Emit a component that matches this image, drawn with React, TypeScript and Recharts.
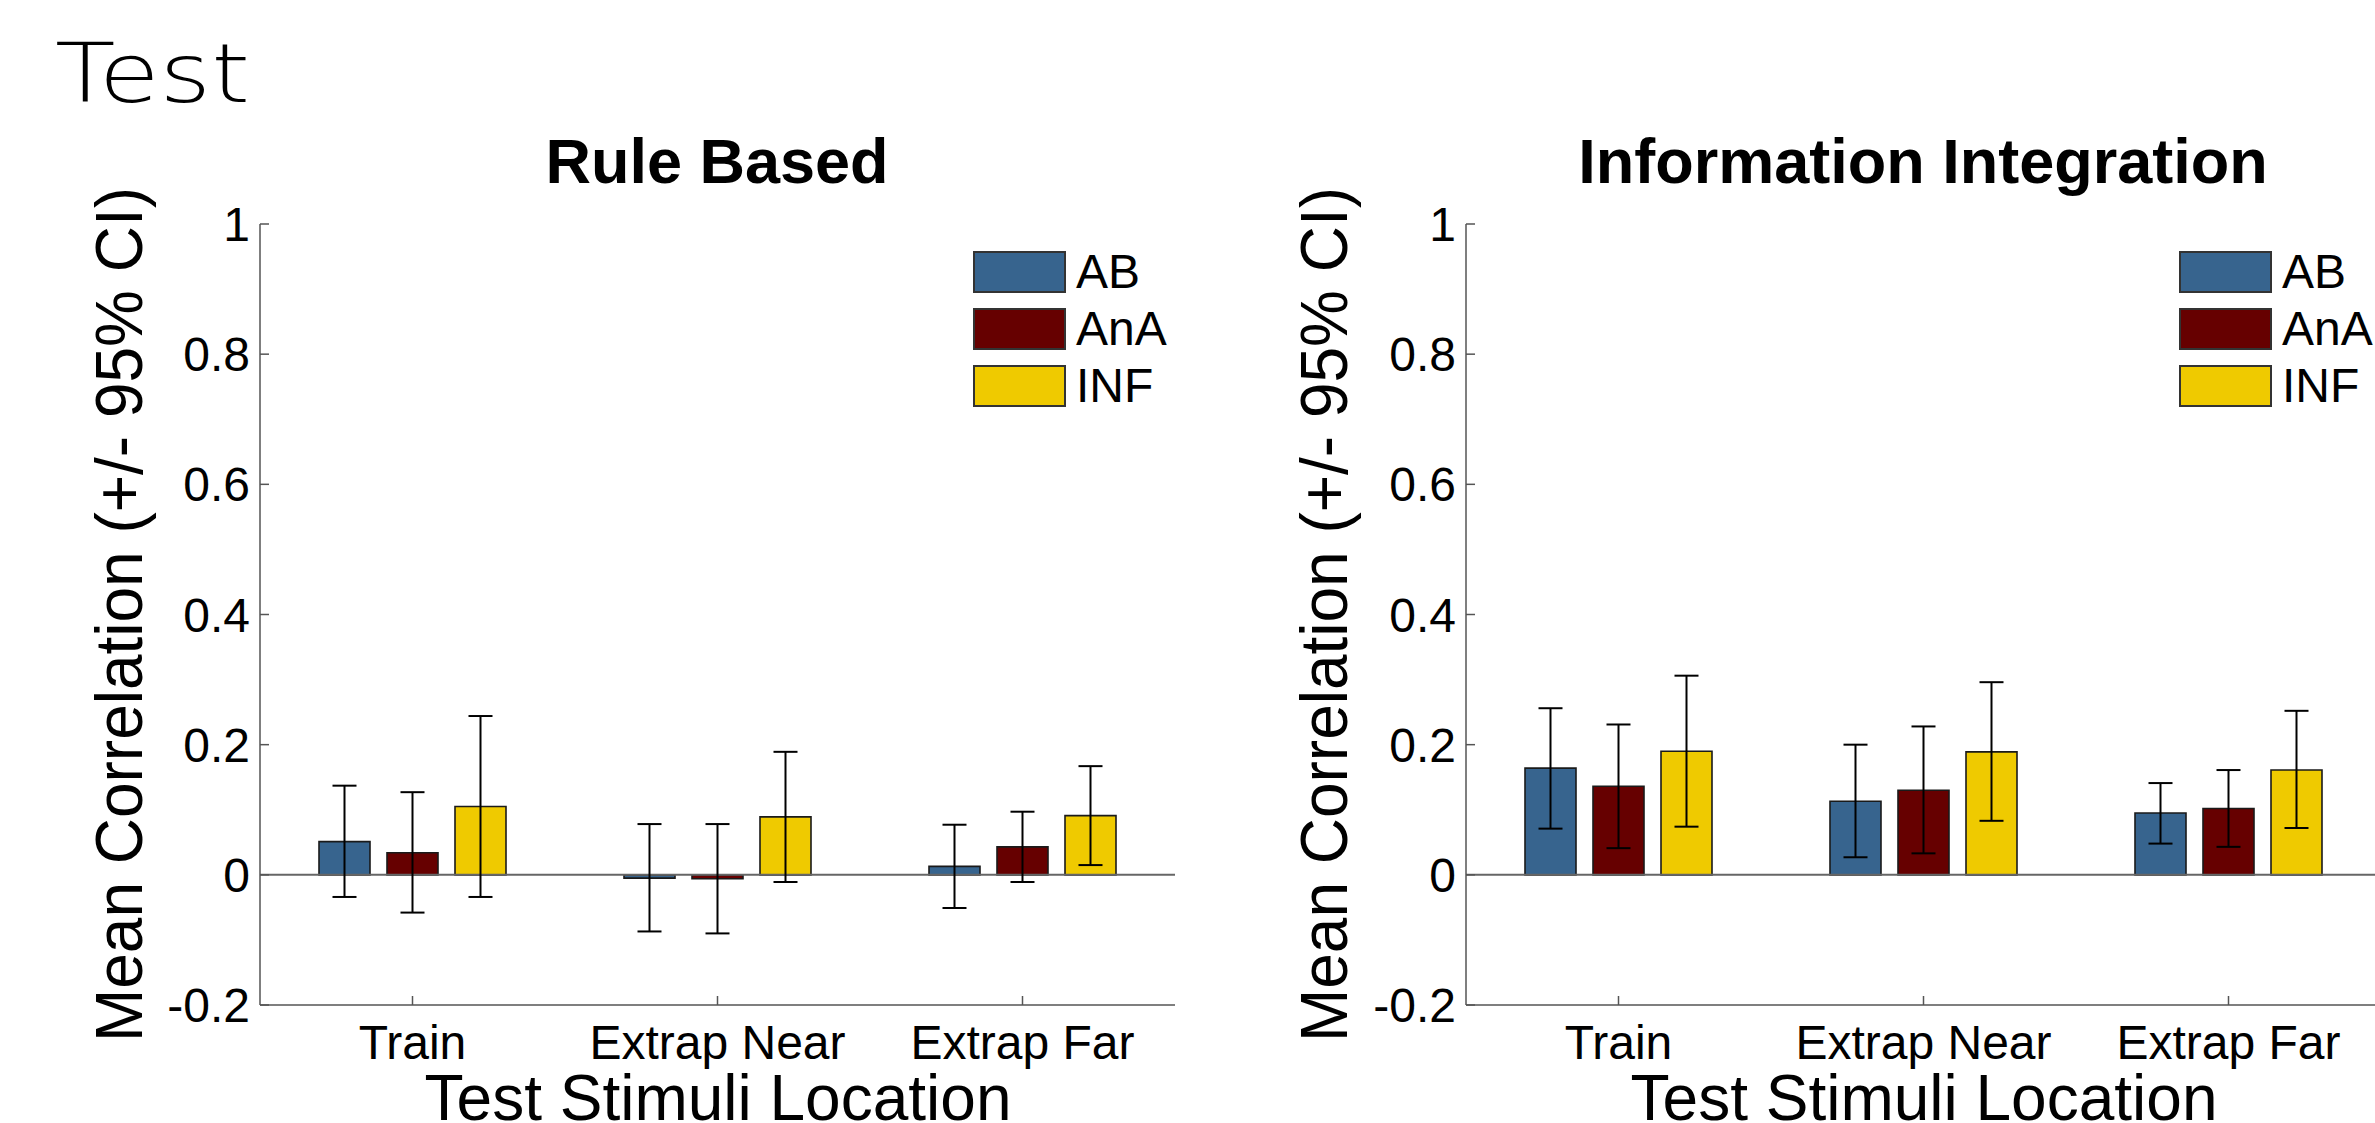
import React from 'react';
import { BarChart, Bar, XAxis, YAxis, ErrorBar, ReferenceLine, Legend } from 'recharts';

// categories / series
const categories = ['Train', 'Extrap Near', 'Extrap Far'];
const seriesNames = ['AB', 'AnA', 'INF'];
const seriesColors = ['#37648E', '#660000', '#EFCA00'];
const yTicks = [-0.2, 0, 0.2, 0.4, 0.6, 0.8, 1];

// Rule Based: mean correlation and 95% CI bounds
const rbAB = [0.051, -0.005, 0.013];
const rbABLow = [-0.034, -0.087, -0.051];
const rbABHigh = [0.137, 0.078, 0.077];
const rbAnA = [0.034, -0.006, 0.043];
const rbAnALow = [-0.058, -0.090, -0.011];
const rbAnAHigh = [0.127, 0.078, 0.097];
const rbINF = [0.105, 0.089, 0.091];
const rbINFLow = [-0.034, -0.011, 0.015];
const rbINFHigh = [0.244, 0.189, 0.167];

// Information Integration
const iiAB = [0.164, 0.113, 0.095];
const iiABLow = [0.071, 0.027, 0.048];
const iiABHigh = [0.256, 0.200, 0.141];
const iiAnA = [0.136, 0.130, 0.102];
const iiAnALow = [0.041, 0.033, 0.043];
const iiAnAHigh = [0.231, 0.228, 0.161];
const iiINF = [0.190, 0.189, 0.161];
const iiINFLow = [0.074, 0.083, 0.072];
const iiINFHigh = [0.306, 0.296, 0.252];

const FONT = 'Arial, "Liberation Sans", Helvetica, sans-serif';
const CHART_W = 1190;
const CHART_H = 1123;
const MARGIN = { top: 224, right: 15, bottom: 58, left: 200 };

// build the table recharts wants from the small arrays
const buildRows = (means: number[][], lows: number[][], highs: number[][]) =>
  categories.map((cat, i) => {
    const row: any = { name: cat };
    seriesNames.forEach((s, k) => {
      row[s] = means[k][i];
      row[s + 'Err'] = [means[k][i] - lows[k][i], highs[k][i] - means[k][i]];
    });
    return row;
  });

const rbData = buildRows(
  [rbAB, rbAnA, rbINF],
  [rbABLow, rbAnALow, rbINFLow],
  [rbABHigh, rbAnAHigh, rbINFHigh]
);
const iiData = buildRows(
  [iiAB, iiAnA, iiINF],
  [iiABLow, iiAnALow, iiINFLow],
  [iiABHigh, iiAnAHigh, iiINFHigh]
);

// ticks point inward, matlab style
const YTick = (props: any) => {
  const { x, y, payload } = props;
  return (
    <g>
      <line x1={x + 10} x2={x + 19} y1={y} y2={y} stroke="#555" strokeWidth={1.5} />
      <text x={x} y={y + 17} textAnchor="end" fontSize={48} fontFamily={FONT} fill="#000">
        {payload.value}
      </text>
    </g>
  );
};

const XTick = (props: any) => {
  const { x, y, payload } = props;
  return (
    <g>
      <line x1={x} x2={x} y1={y} y2={y - 9} stroke="#555" strokeWidth={1.5} />
      <text x={x} y={y + 54} textAnchor="middle" fontSize={48} fontFamily={FONT} fill="#000">
        {payload.value}
      </text>
    </g>
  );
};

const LegendBox = ({ payload }: any) => (
  <div style={{ display: 'flex', flexDirection: 'column', gap: 15 }}>
    {(payload || []).map((entry: any, i: number) => (
      <div key={entry.value} style={{ display: 'flex', alignItems: 'center', height: 42 }}>
        <div
          style={{
            width: 93,
            height: 42,
            background: entry.color || seriesColors[i],
            border: '2px solid #333',
            boxSizing: 'border-box',
          }}
        />
        <span style={{ marginLeft: 10, fontSize: 48, fontFamily: FONT, lineHeight: '42px', color: '#000' }}>
          {entry.value}
        </span>
      </div>
    ))}
  </div>
);

const Panel = ({ data, left }: { data: any[]; left: number }) => (
  <div style={{ position: 'absolute', left, top: 0 }}>
    <BarChart width={CHART_W} height={CHART_H} data={data} margin={MARGIN} barSize={51} barGap={17}>
      <XAxis
        dataKey="name"
        height={60}
        interval={0}
        tickSize={0}
        tickMargin={0}
        tickLine={false}
        axisLine={{ stroke: '#555', strokeWidth: 1.5 }}
        tick={<XTick />}
      />
      <YAxis
        type="number"
        width={60}
        domain={[-0.2, 1]}
        ticks={yTicks}
        allowDataOverflow
        tickSize={0}
        tickMargin={10}
        tickLine={false}
        axisLine={{ stroke: '#555', strokeWidth: 1.5 }}
        tick={<YTick />}
      />
      <ReferenceLine y={0} stroke="#666" strokeWidth={2} />
      {seriesNames.map((s, k) => (
        <Bar
          key={s}
          dataKey={s}
          name={s}
          fill={seriesColors[k]}
          stroke="#1a1a1a"
          strokeWidth={1.6}
          isAnimationActive={false}
        >
          <ErrorBar dataKey={s + 'Err'} width={12} stroke="#000" strokeWidth={2} direction="y" isAnimationActive={false} />
        </Bar>
      ))}
      <Legend
        layout="vertical"
        align="center"
        verticalAlign="middle"
        wrapperStyle={{ top: 251, left: 973, width: 'auto', height: 'auto' }}
        content={<LegendBox />}
      />
    </BarChart>
  </div>
);

const App = () => (
  <div
    style={{
      position: 'absolute',
      left: 0,
      top: 0,
      width: 2375,
      height: 1123,
      overflow: 'hidden',
      background: '#fff',
    }}
  >
    <Panel data={rbData} left={0} />
    <Panel data={iiData} left={1206} />
    <svg
      width={2375}
      height={1123}
      style={{ position: 'absolute', left: 0, top: 0, pointerEvents: 'none' }}
    >
      <text
        x={55}
        y={102}
        fontSize={82}
        fontWeight={200}
        fontFamily='"DejaVu Sans", Arial, sans-serif'
        textLength={195}
        lengthAdjust="spacingAndGlyphs"
      >
        Test
      </text>
      <text x={717} y={183} textAnchor="middle" fontSize={63} fontWeight="bold" fontFamily={FONT}>
        Rule Based
      </text>
      <text x={1923} y={183} textAnchor="middle" fontSize={63} fontWeight="bold" fontFamily={FONT}>
        Information Integration
      </text>
      <text
        transform="translate(142,614.5) rotate(-90)"
        textAnchor="middle"
        fontSize={66}
        fontFamily={FONT}
        textLength={855}
        lengthAdjust="spacingAndGlyphs"
      >
        Mean Correlation (+/- 95% CI)
      </text>
      <text
        transform="translate(1347,614.5) rotate(-90)"
        textAnchor="middle"
        fontSize={66}
        fontFamily={FONT}
        textLength={855}
        lengthAdjust="spacingAndGlyphs"
      >
        Mean Correlation (+/- 95% CI)
      </text>
      <text x={718} y={1120} textAnchor="middle" fontSize={64} fontFamily={FONT}>
        Test Stimuli Location
      </text>
      <text x={1924} y={1120} textAnchor="middle" fontSize={64} fontFamily={FONT}>
        Test Stimuli Location
      </text>
    </svg>
  </div>
);

export default App;
